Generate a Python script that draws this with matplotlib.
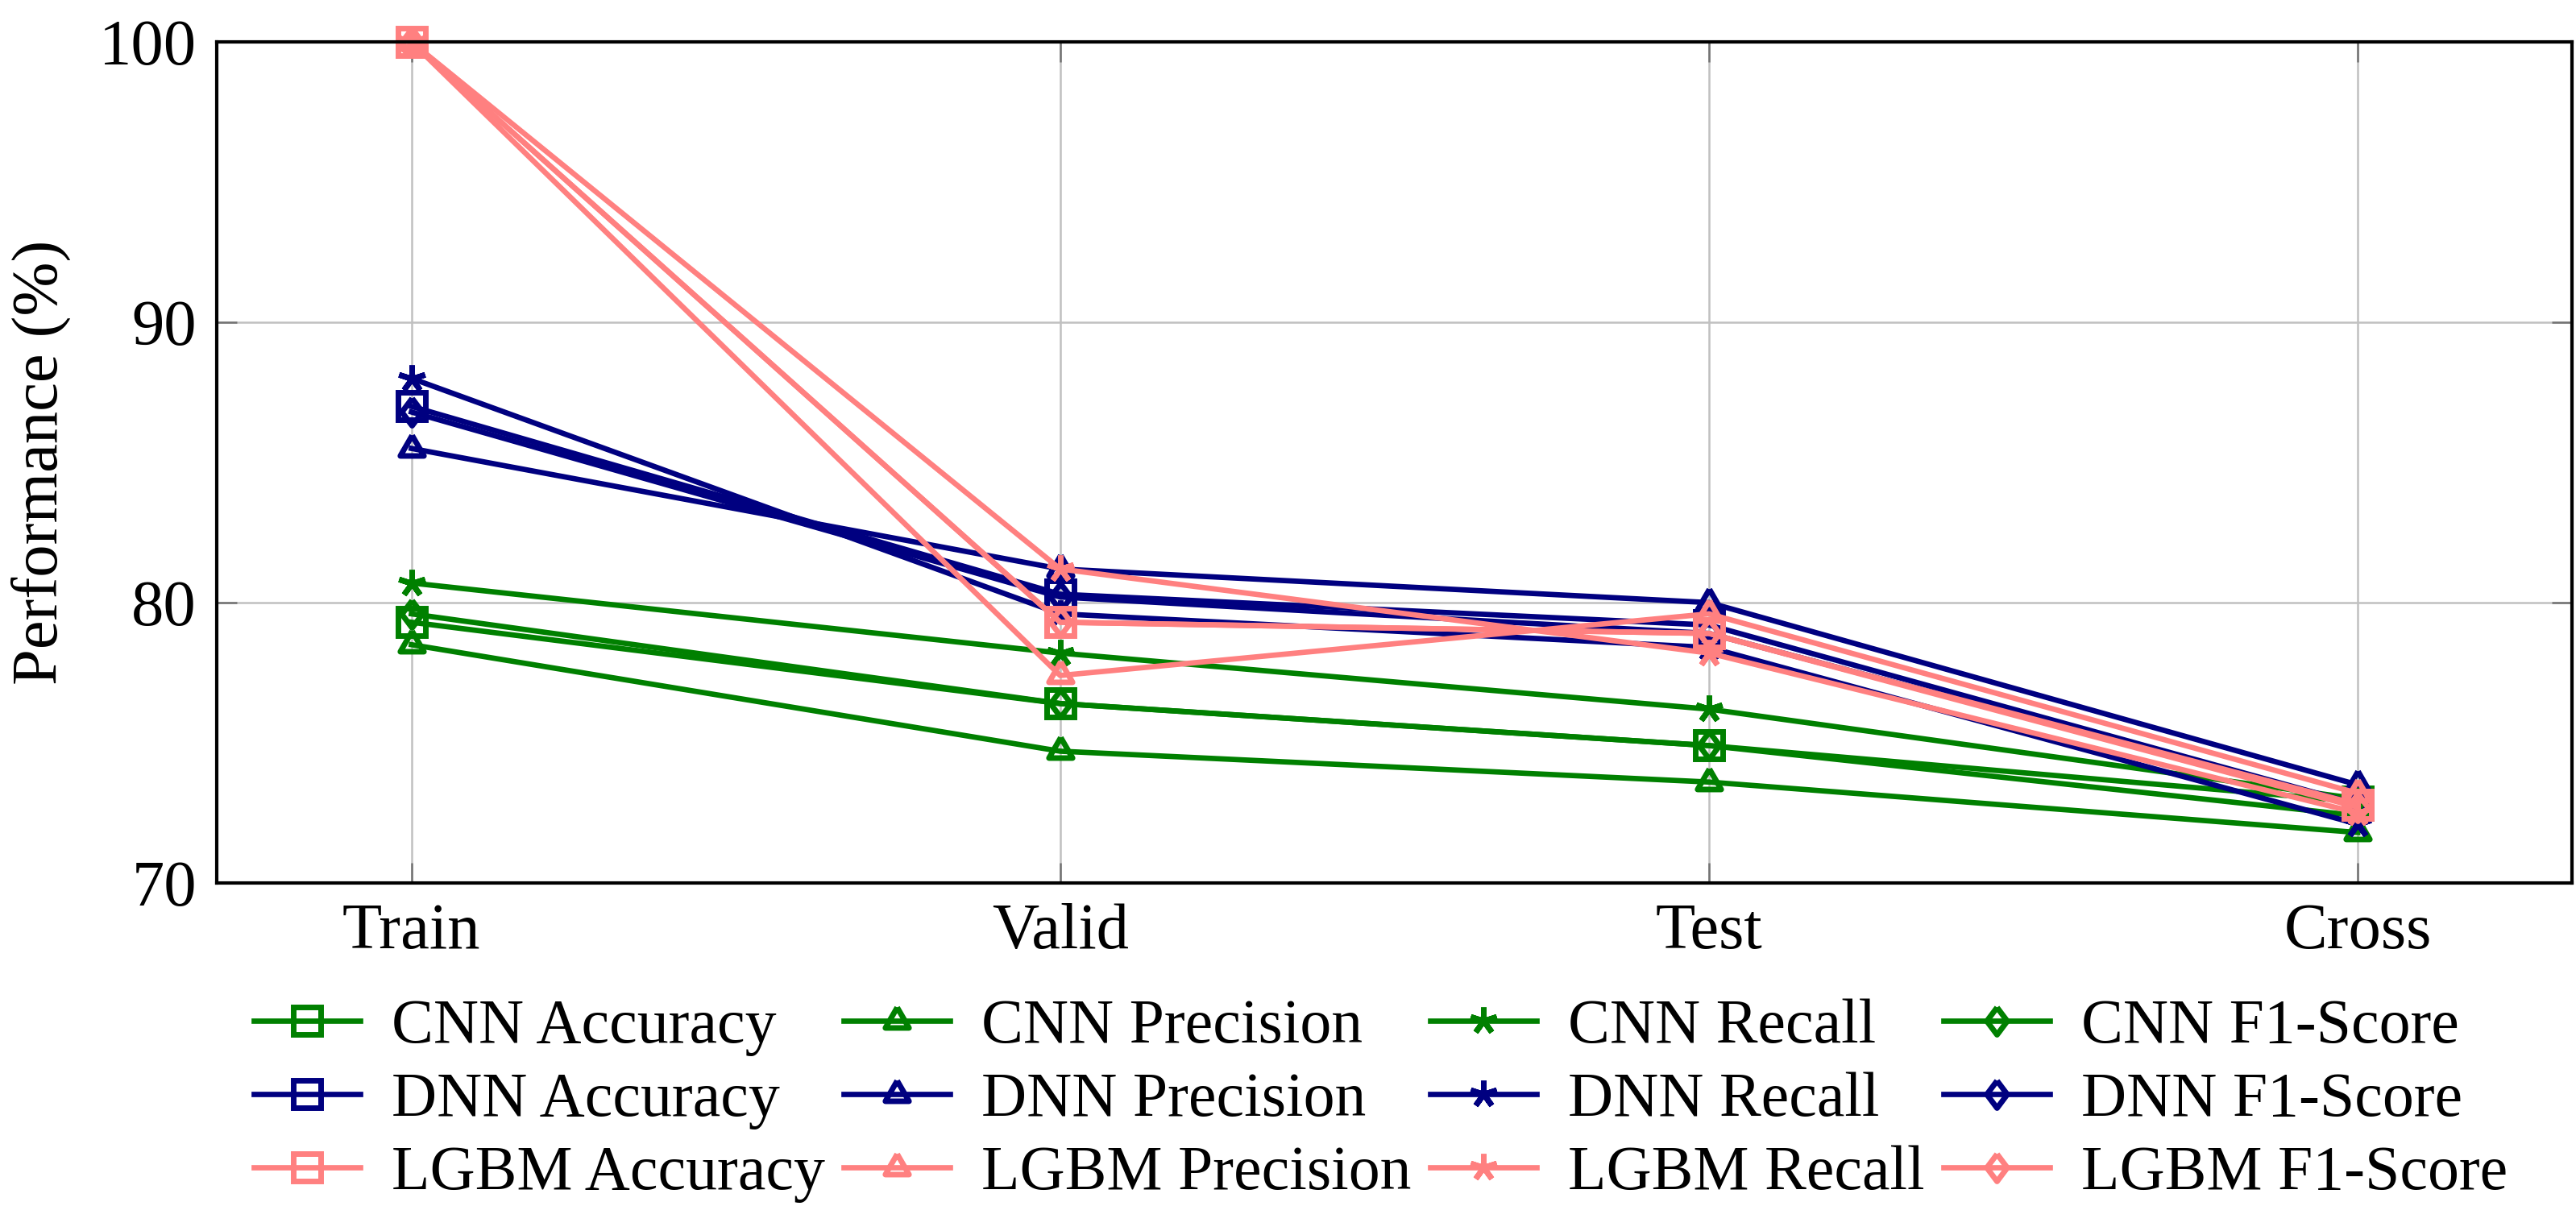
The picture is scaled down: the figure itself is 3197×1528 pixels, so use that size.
import matplotlib
matplotlib.use("Agg")
import matplotlib.pyplot as plt
from matplotlib.markers import MarkerStyle

plt.rcParams['font.family'] = ['Liberation Serif', 'DejaVu Serif']

splits = ['Train', 'Valid', 'Test', 'Cross']

cnn_acc = [79.3, 76.4, 74.9, 72.9]
cnn_prec = [78.5, 74.7, 73.6, 71.8]
cnn_rec = [80.7, 78.2, 76.2, 73.0]
cnn_f1 = [79.6, 76.4, 74.9, 72.4]

dnn_acc = [87.0, 80.3, 79.2, 72.8]
dnn_prec = [85.5, 81.2, 80.0, 73.5]
dnn_rec = [88.0, 79.6, 78.4, 72.1]
dnn_f1 = [86.8, 80.2, 78.9, 72.8]

lgbm_acc = [100, 79.3, 78.9, 72.8]
lgbm_prec = [100, 77.4, 79.6, 73.2]
lgbm_rec = [100, 81.2, 78.2, 72.5]
lgbm_f1 = [100, 79.3, 78.9, 72.7]

models = ['CNN', 'DNN', 'LGBM']
metrics = ['Accuracy', 'Precision', 'Recall', 'F1-Score']
values = {
    'CNN': [cnn_acc, cnn_prec, cnn_rec, cnn_f1],
    'DNN': [dnn_acc, dnn_prec, dnn_rec, dnn_f1],
    'LGBM': [lgbm_acc, lgbm_prec, lgbm_rec, lgbm_f1],
}
colors = {'CNN': '#008000', 'DNN': '#000080', 'LGBM': '#ff8080'}

# pgfplots-like marks: square, triangle, star, diamond
tri = MarkerStyle([(0, 1), (-0.866, -0.5), (0.866, -0.5), (0, 1)], joinstyle='miter')
dia = MarkerStyle([(0, 1), (0.75, 0), (0, -1), (-0.75, 0), (0, 1)], joinstyle='miter')
marks = [MarkerStyle('s', joinstyle='miter'), tri, (5, 2, 0), dia]

fig = plt.figure(figsize=(3197 / 200, 1528 / 200), dpi=200)
ax = fig.add_axes([269 / 3197, 1 - 1096 / 1528, (3192 - 269) / 3197, (1096 - 52) / 1528])

x = list(range(len(splits)))
for m in models:
    for k, met in enumerate(metrics):
        ax.plot(x, values[m][k], color=colors[m], lw=2.4, marker=marks[k],
                ms=12.2, mew=2.5, mfc='none', mec=colors[m], clip_on=False,
                label=f'{m} {met}')

ax.set_xlim(-0.3, 3.33)
ax.set_ylim(70, 100)
ax.set_xticks(x)
ax.set_xticklabels(splits)
ax.set_yticks([70, 80, 90, 100])
ax.grid(True, color='#c0c0c0', lw=0.9)
ax.set_axisbelow(True)
ax.tick_params(direction='in', length=9, width=0.9, color='0.45', labelsize=29,
               pad=9, top=True, right=True)
for s in ax.spines.values():
    s.set_linewidth(1.5)
ax.set_ylabel('Performance (%)', fontsize=29)
ax.yaxis.set_label_coords(-0.062, 0.5)

# legend: rows = model, columns = metric
h, l = ax.get_legend_handles_labels()
order = [i * 4 + j for i in range(3) for j in range(4)]
# matplotlib fills columns first, so reorder to get row-wise layout
col_major = [order[r * 4 + c] for c in range(4) for r in range(3)]
fig.legend([h[i] for i in col_major], [l[i] for i in col_major], loc='center',
           bbox_to_anchor=(0.536, 0.106), ncol=4, frameon=False, fontsize=28,
           handlelength=1.7, handletextpad=0.5, columnspacing=0.3,
           labelspacing=0.25, numpoints=1)

fig.savefig('out.png', dpi=200)
